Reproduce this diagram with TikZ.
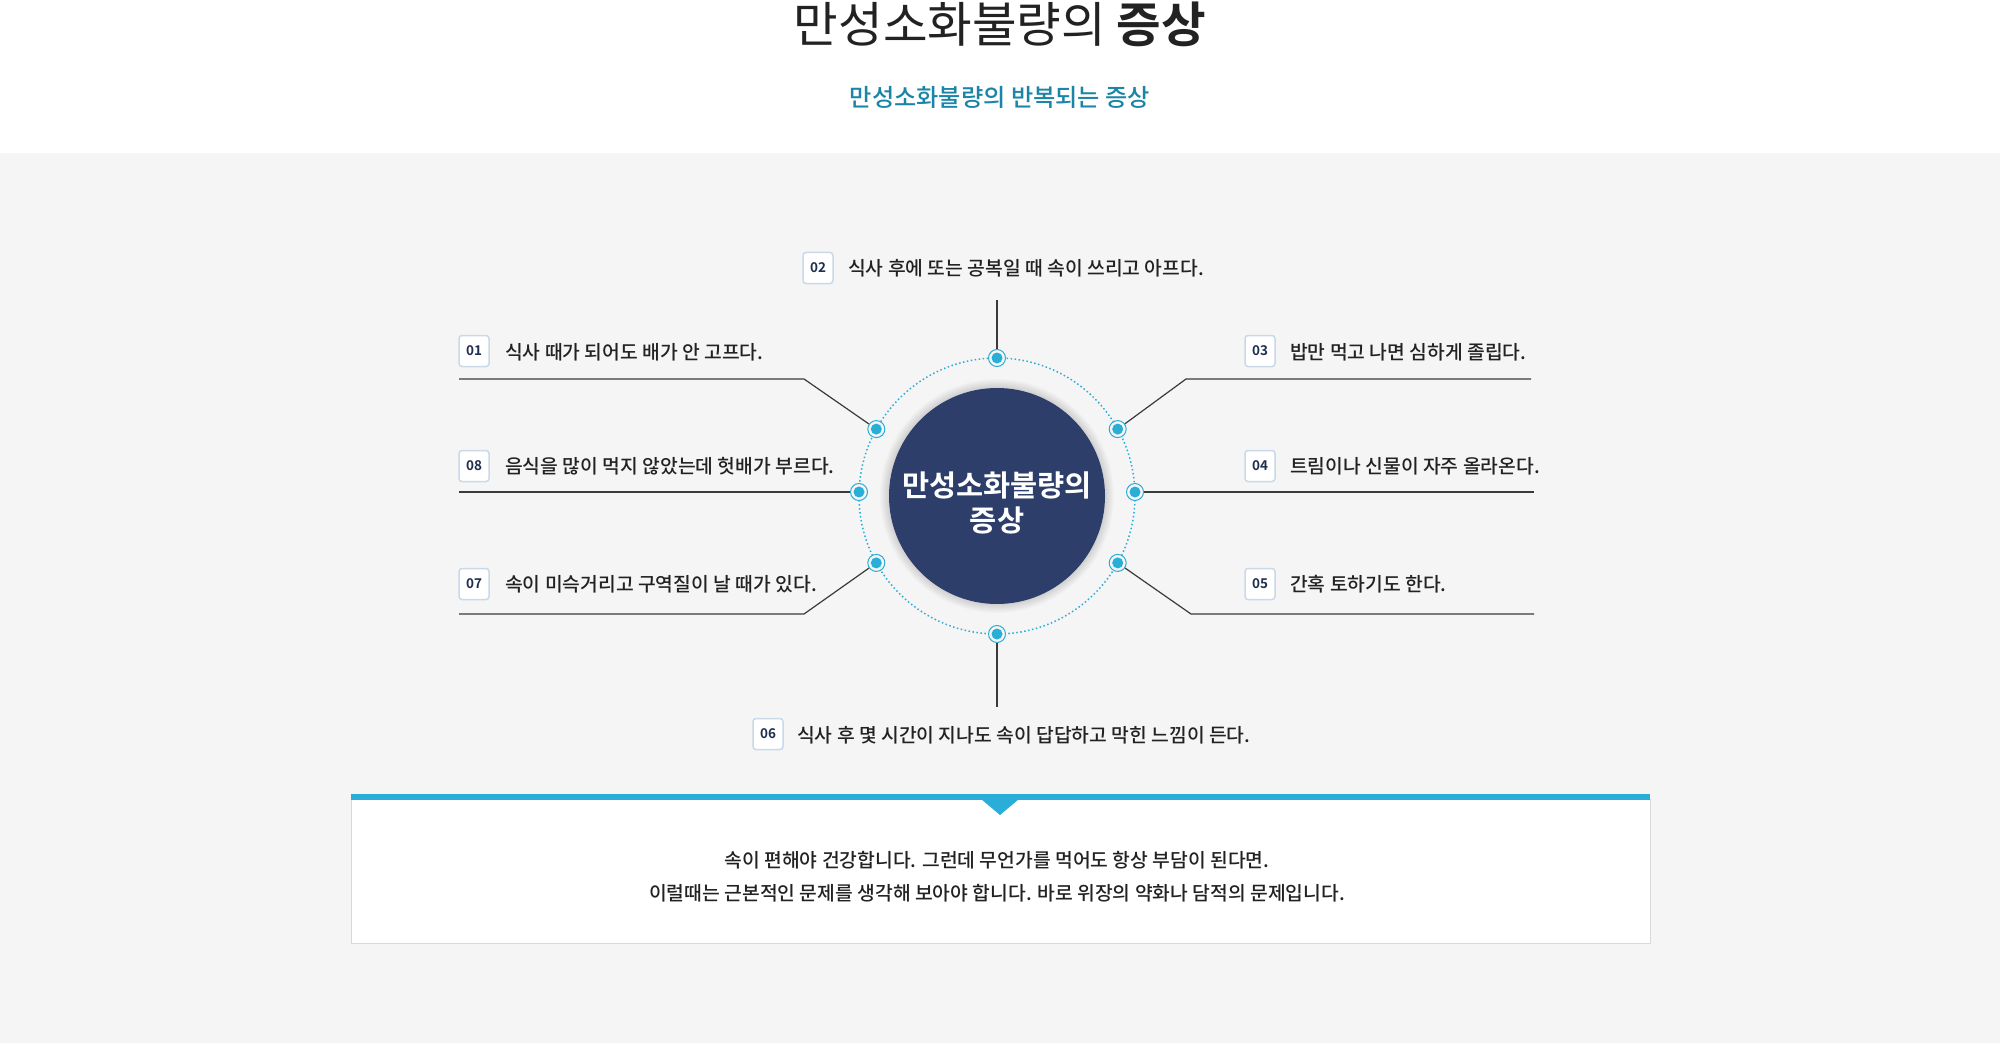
\documentclass[tikz,border=0pt]{standalone}
\usepackage{fontspec}
\setmainfont{Noto Sans CJK KR}[BoldFont={Noto Sans CJK KR Bold}]
\IfFontExistsTF{Noto Sans CJK KR Medium}{\newfontfamily\krmed{Noto Sans CJK KR Medium}}{\newfontfamily\krmed{Noto Sans CJK KR}}
\usetikzlibrary{calc}
\definecolor{bggray}{HTML}{F5F5F5}
\definecolor{navy}{HTML}{2C3E69}
\definecolor{cyanb}{HTML}{29AED8}
\definecolor{tealt}{HTML}{1A85A8}
\definecolor{boxb}{HTML}{C9D9EA}
\definecolor{numc}{HTML}{1F2F4F}
\definecolor{txt}{HTML}{222222}
\definecolor{linec}{HTML}{3A3A3A}
\definecolor{panelb}{HTML}{D9D9D9}
\begin{document}
\begin{tikzpicture}[x=1pt,y=-1pt,
  numbox/.style={draw=boxb,line width=1.5pt,fill=white,rounded corners=3pt,
    minimum width=30pt,minimum height=31pt,inner sep=0pt,text=numc,
    font=\bfseries\fontsize{13.5pt}{15pt}\selectfont},
  itemtext/.style={anchor=west,inner sep=0pt,text=txt,font=\krmed\fontsize{19.3pt}{23pt}\selectfont},
  conn/.style={draw=linec,line width=1.2pt},
  dotring/.style={circle,draw=cyanb,line width=1pt,fill=bggray,minimum size=17pt,inner sep=0pt},
  paneltext/.style={text=txt,inner sep=0pt,font=\krmed\fontsize{19.3pt}{23pt}\selectfont}
]
\useasboundingbox (0,0) rectangle (2000,1043);
\fill[white] (0,0) rectangle (2000,153);
\fill[bggray] (0,153) rectangle (2000,1043);

% titles
\node[anchor=base,inner sep=0pt,text=txt,font=\fontsize{48.5pt}{54pt}\selectfont] (title) at (1000,43) {만성소화불량의 \textbf{증상}};
\node[inner sep=0pt,text=tealt,font=\krmed\fontsize{24.2pt}{28pt}\selectfont] (subtitle) at (1000,97) {만성소화불량의 반복되는 증상};

% center
\coordinate (c) at (997,496);
\foreach \k in {1,...,9}{\fill[black,opacity=0.014] (c) circle (108+\k);}
\draw[cyanb,line width=1.5pt,dash pattern=on 1.5pt off 2.5pt] (c) circle (138);
\node[circle,fill=navy,minimum size=216pt,inner sep=0pt] (hub) at (c) {};
\node[text=white,align=center,inner sep=0pt,font=\bfseries\fontsize{29.5pt}{35pt}\selectfont] (hubtext) at (997,503) {만성소화불량의\\증상};

% ring nodes
\foreach \n/\a in {t/90,ur/29,lr/-29,b/-90,ll/209,ul/151}{
  \node[dotring] (\n) at ($(c)+(\a:138pt)$) {};
}
\node[dotring] (l) at (859,492) {};
\node[dotring] (r) at (1135,492) {};
\foreach \n in {t,ur,r,lr,b,ll,l,ul}{\fill[cyanb] (\n) circle (5.5);}

% number boxes and texts
\node[numbox] (n01) at (474,351) {01};
\node[itemtext] (s01) at (505,352) {식사 때가 되어도 배가 안 고프다.};
\node[numbox] (n02) at (818,268) {02};
\node[itemtext] (s02) at (848,268) {식사 후에 또는 공복일 때 속이 쓰리고 아프다.};
\node[numbox] (n03) at (1260,351) {03};
\node[itemtext] (s03) at (1290,352) {밥만 먹고 나면 심하게 졸립다.};
\node[numbox] (n04) at (1260,466) {04};
\node[itemtext] (s04) at (1290,466) {트림이나 신물이 자주 올라온다.};
\node[numbox] (n05) at (1260,584) {05};
\node[itemtext] (s05) at (1290,584) {간혹 토하기도 한다.};
\node[numbox] (n06) at (768,734) {06};
\node[itemtext] (s06) at (797,735) {식사 후 몇 시간이 지나도 속이 답답하고 막힌 느낌이 든다.};
\node[numbox] (n07) at (474,584) {07};
\node[itemtext] (s07) at (505,584) {속이 미슥거리고 구역질이 날 때가 있다.};
\node[numbox] (n08) at (474,466) {08};
\node[itemtext] (s08) at (505,466) {음식을 많이 먹지 않았는데 헛배가 부르다.};

% connectors
\coordinate (a01) at (459,379); \coordinate (k01) at (804,379);
\coordinate (a03) at (1531,379); \coordinate (k03) at (1186,379);
\coordinate (a08) at (459,492);
\coordinate (a04) at (1534,492);
\coordinate (a07) at (459,614); \coordinate (k07) at (804,614);
\coordinate (a05) at (1534,614); \coordinate (k05) at (1191,614);
\coordinate (a02) at (997,300);
\coordinate (a06) at (997,707);
\draw[conn] (a01) -- (k01) -- (ul);
\draw[conn] (a03) -- (k03) -- (ur);
\draw[conn] (a08) -- (l);
\draw[conn] (a04) -- (r);
\draw[conn] (a07) -- (k07) -- (ll);
\draw[conn] (a05) -- (k05) -- (lr);
\draw[conn] (a02) -- (t);
\draw[conn] (a06) -- (b);

% panel
\fill[white] (351,799) rectangle (1650,943);
\draw[panelb,line width=1pt] (351,799) -- (351,943) -- (1650,943) -- (1650,799);
\fill[cyanb] (351,794) rectangle (1650,800);
\fill[cyanb] (981,799) -- (1019,799) -- (1000,815) -- cycle;
\node[paneltext] (p1) at (997,860) {속이 편해야 건강합니다. 그런데 무언가를 먹어도 항상 부담이 된다면.};
\node[paneltext] (p2) at (997,893) {이럴때는 근본적인 문제를 생각해 보아야 합니다. 바로 위장의 약화나 담적의 문제입니다.};
\end{tikzpicture}
\end{document}
